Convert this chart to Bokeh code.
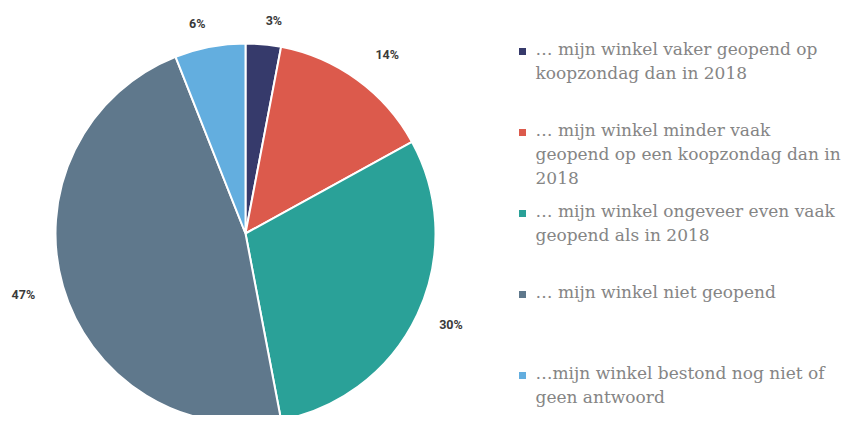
import math
from bokeh.plotting import figure
from bokeh.models import Range1d, ColumnDataSource
from bokeh.core.properties import value
from bokeh.embed import file_html
from bokeh.resources import INLINE

# ---- data ----
categories = [
    "\u2026 mijn winkel vaker geopend op\nkoopzondag dan in 2018",
    "\u2026 mijn winkel minder vaak\ngeopend op een koopzondag dan in\n2018",
    "\u2026 mijn winkel ongeveer even vaak\ngeopend als in 2018",
    "\u2026 mijn winkel niet geopend",
    "\u2026mijn winkel bestond nog niet of\ngeen antwoord",
]
percentages = [3, 14, 30, 47, 6]
labels = ["3%", "14%", "30%", "47%", "6%"]
colors = ["#363a6b", "#dc5a4c", "#2aa198", "#5f788c", "#63aedf"]

W, H = 845, 415

def sx(x):
    return x

def sy(y):
    return H - y

p = figure(width=W, height=H, output_backend="svg", toolbar_location=None,
           x_range=Range1d(0, W), y_range=Range1d(0, H), min_border=0,
           outline_line_color=None)
p.axis.visible = False
p.grid.visible = False

cx, cy, R = 245, 233, 190
total = sum(percentages)
starts, ends, mids = [], [], []
acc = 0
for v in percentages:
    a0 = math.pi / 2 - acc / total * 2 * math.pi
    acc += v
    a1 = math.pi / 2 - acc / total * 2 * math.pi
    starts.append(a0)
    ends.append(a1)
    mids.append((a0 + a1) / 2)

src = ColumnDataSource(dict(x=[sx(cx)] * 5, y=[sy(cy)] * 5, start=starts, end=ends, color=colors))
p.wedge(x="x", y="y", radius=R, radius_units="screen", start_angle="start", end_angle="end",
        direction="clock", fill_color="color", line_color="white", line_width=2, source=src)

# percentage labels
lx, ly, la = [], [], []
RL = 214
for m in mids:
    c = math.cos(m)
    r = RL + (5 if c < -0.5 else 0) + (7 if 0.3 < c < 0.7 else 0)
    x = cx + r * c
    y = cy - r * math.sin(m)
    lx.append(sx(x))
    ly.append(sy(y))
    la.append("left" if c > 0.05 else ("right" if c < -0.05 else "center"))
p.text(x=lx, y=ly, text=labels, text_align=la, text_baseline="middle",
       text_font=value("Roboto"), text_font_style="bold", text_font_size="12.5px",
       text_color="#3a3a3a")

# legend
leg_y0, leg_dy = 50, 81
sq_x, txt_x = 522, 535
for i, (c, t) in enumerate(zip(colors, categories)):
    yy = leg_y0 + i * leg_dy
    p.scatter(x=[sx(sq_x)], y=[sy(yy + 1)], marker="square", size=7, fill_color=c, line_color=None)
    p.text(x=[sx(txt_x)], y=[sy(yy - 12)], text=[t], text_align="left", text_baseline="top",
           text_font=value("DejaVu Serif"), text_font_size="17px", text_line_height=1.22,
           text_color="#858585")

open("out.html", "w").write(file_html(p, INLINE))
